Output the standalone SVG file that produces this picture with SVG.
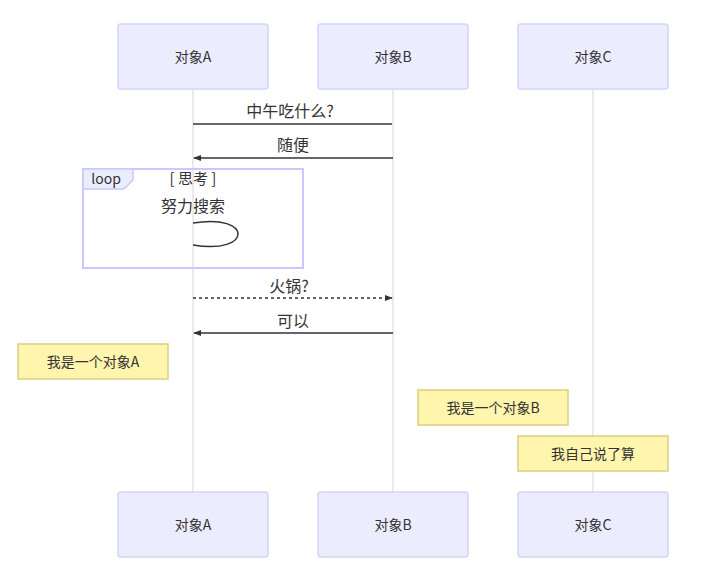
<svg xmlns="http://www.w3.org/2000/svg" width="709" height="573" viewBox="0 0 709 573">
<defs>
<style>
text{font-family:"Noto Sans CJK SC","Liberation Sans",sans-serif;fill:#333;}
.actor rect{fill:#ECECFF;stroke:#D3D3F8;stroke-width:1.5;}
.actor text{font-size:14px;text-anchor:middle;dominant-baseline:central;}
.life{stroke:#DDDDDD;stroke-width:1.2;}
.msg{stroke:#333;stroke-width:1.5;fill:none;}
.mtext{font-size:16px;text-anchor:middle;}
.note rect{fill:#FFF5AD;stroke:#D9CF82;stroke-width:1.5;}
.note text{font-size:14px;text-anchor:middle;dominant-baseline:central;}
</style>
<marker id="ah" viewBox="0 0 10 10" refX="9" refY="5" markerWidth="8" markerHeight="8" orient="auto-start-reverse" markerUnits="userSpaceOnUse">
<path d="M0,1 L10,5 L0,9 z" fill="#333"/>
</marker>
</defs>
<rect width="709" height="573" fill="#fff"/>
<g id="lifelines">
<line class="life" x1="193" y1="89" x2="193" y2="492"/>
<line class="life" x1="393" y1="89" x2="393" y2="492"/>
<line class="life" x1="593" y1="89" x2="593" y2="492"/>
</g>
<g id="actorA-top" class="actor"><rect x="118" y="24" width="150" height="65" rx="3"/><text x="193" y="56">对象A</text></g>
<g id="actorB-top" class="actor"><rect x="318" y="24" width="150" height="65" rx="3"/><text x="393" y="56">对象B</text></g>
<g id="actorC-top" class="actor"><rect x="518" y="24" width="150" height="65" rx="3"/><text x="593" y="56">对象C</text></g>
<g id="actorA-bottom" class="actor"><rect x="118" y="492" width="150" height="65" rx="3"/><text x="193" y="524">对象A</text></g>
<g id="actorB-bottom" class="actor"><rect x="318" y="492" width="150" height="65" rx="3"/><text x="393" y="524">对象B</text></g>
<g id="actorC-bottom" class="actor"><rect x="518" y="492" width="150" height="65" rx="3"/><text x="593" y="524">对象C</text></g>
<g id="loop">
<rect x="83" y="169" width="220" height="99" fill="none" stroke="#C8C8FF" stroke-width="2"/>
<path d="M83,169 L133,169 L133,180 L124,189 L83,189 Z" fill="#ECECFF" stroke="#C8C8FF" stroke-width="1.5"/>
<text x="106" y="184" font-size="14px" text-anchor="middle">loop</text>
<text x="193" y="184" font-size="15px" text-anchor="middle">[ 思考 ]</text>
</g>
<g id="connectors">
<line class="msg" x1="193" y1="124" x2="392" y2="124"/>
<line class="msg" x1="393" y1="158" x2="194" y2="158" marker-end="url(#ah)"/>
<path class="msg" d="M193,223 C253,213 253,255 193,245"/>
<line class="msg" x1="193" y1="298" x2="392" y2="298" stroke-dasharray="3,3" marker-end="url(#ah)"/>
<line class="msg" x1="393" y1="333" x2="194" y2="333" marker-end="url(#ah)"/>
</g>
<g id="labels">
<text class="mtext" x="290" y="117">中午吃什么?</text>
<text class="mtext" x="293" y="151">随便</text>
<text class="mtext" x="193" y="212">努力搜索</text>
<text class="mtext" x="289" y="292">火锅?</text>
<text class="mtext" x="293" y="327">可以</text>
</g>
<g id="noteA" class="note"><rect x="18" y="344" width="150" height="35"/><text x="93" y="361">我是一个对象A</text></g>
<g id="noteB" class="note"><rect x="418" y="390" width="150" height="35"/><text x="493" y="407">我是一个对象B</text></g>
<g id="noteC" class="note"><rect x="518" y="436" width="150" height="35"/><text x="593" y="453">我自己说了算</text></g>
</svg>
